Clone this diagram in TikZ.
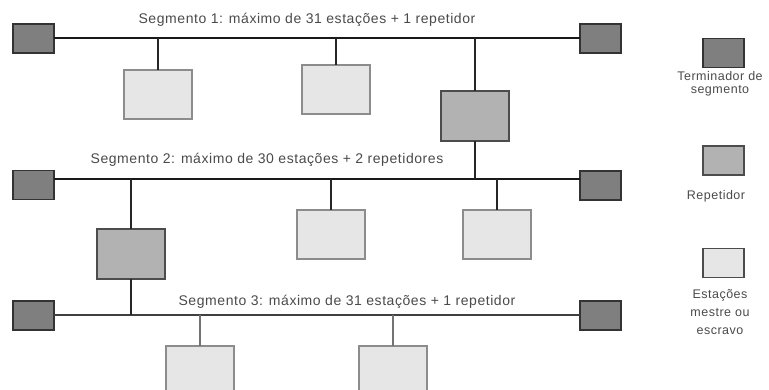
\documentclass[tikz,border=0pt]{standalone}
\usepackage{fontspec}
\setmainfont{Liberation Sans}
\newfontfamily\labfont[LetterSpace=4]{Liberation Sans}
\definecolor{termfill}{HTML}{7F7F7F}
\definecolor{repfill}{HTML}{B2B2B2}
\definecolor{stafill}{HTML}{E6E6E6}
\definecolor{txtcol}{HTML}{4A4A4A}
\begin{document}
\begin{tikzpicture}[x=1pt,y=-1pt,
  box/.style={rectangle,inner sep=0pt,outer sep=0pt,line width=1.3pt},
  term/.style={box,draw=black!80,fill=termfill,minimum width=41pt,minimum height=29pt},
  rep/.style={box,draw=black!70,fill=repfill,minimum width=68pt,minimum height=50pt},
  sta/.style={box,draw=black!45,fill=stafill,minimum width=68pt,minimum height=49pt},
  bus/.style={line width=2.2pt,black!90},
  thinbus/.style={line width=1.4pt,black!75},
  drop/.style={line width=2pt,black!85},
  gdrop/.style={line width=2pt,black!55},
  seglab/.style={inner sep=0pt,text=txtcol,font=\labfont\fontsize{14}{16}\selectfont},
  leglab/.style={inner sep=0pt,text=txtcol,align=center,font=\labfont\fontsize{12.5}{13}\selectfont}]
\useasboundingbox (0,0) rectangle (769,390);
\clip (0,0) rectangle (769,390);

% Segment 1
\coordinate (b1) at (0,38);
\node[term] (t1l) at (33.5,38.5) {};
\node[term] (t1r) at (600.5,38.5) {};
\draw[bus] (t1l.east |- b1) -- (t1r.west |- b1);
\node[seglab] (lab1) at (307,20) {Segmento 1: máximo de 31 estações + 1 repetidor};
\node[sta] (s11) at (158,94.5) {};
\node[sta] (s12) at (336,89.5) {};
\node[rep] (r1) at (475,116) {};
\draw[drop] (s11.north) -- (s11.north |- b1);
\draw[drop] (s12.north) -- (s12.north |- b1);
\draw[drop] (r1.north) -- (r1.north |- b1);

% Segment 2
\coordinate (b2) at (0,179);
\node[term] (t2l) at (33.5,185) {};
\node[term] (t2r) at (600.5,185.5) {};
\draw[bus] (t2l.east |- b2) -- (t2r.west |- b2);
\node[seglab] (lab2) at (267,160) {Segmento 2: máximo de 30 estações + 2 repetidores};
\draw[drop] (r1.south) -- (r1.south |- b2);
\node[rep] (r2) at (131,254) {};
\node[sta] (s21) at (331,234.5) {};
\node[sta] (s22) at (497,234.5) {};
\draw[drop] (r2.north) -- (r2.north |- b2);
\draw[drop] (s21.north) -- (s21.north |- b2);
\draw[drop] (s22.north) -- (s22.north |- b2);

% Segment 3
\coordinate (b3) at (0,315);
\node[term] (t3l) at (33.5,315.5) {};
\node[term] (t3r) at (600.5,315.5) {};
\draw[thinbus] (t3l.east |- b3) -- (t3r.west |- b3);
\node[seglab] (lab3) at (347,302) {Segmento 3: máximo de 31 estações + 1 repetidor};
\draw[drop] (r2.south) -- (r2.south |- b3);
\node[sta,minimum height=60pt] (s31) at (200,376) {};
\node[sta,minimum height=60pt] (s32) at (393,376) {};
\draw[gdrop] (s31.north) -- (s31.north |- b3);
\draw[gdrop] (s32.north) -- (s32.north |- b3);

% Legend
\node[term] (lt) at (723.5,53) {};
\node[leglab,anchor=north] (ltl) at (720,71) {Terminador de\\segmento};
\node[term,fill=repfill,draw=black!70] (lr) at (723.5,160.5) {};
\node[leglab] (lrl) at (716,196) {Repetidor};
\node[term,fill=stafill,draw=black!70] (ls) at (723.5,263) {};
\node[leglab,anchor=north,font=\labfont\fontsize{12.5}{18}\selectfont] (lsl) at (720,289) {Estações\\mestre ou\\escravo};
\end{tikzpicture}
\end{document}
